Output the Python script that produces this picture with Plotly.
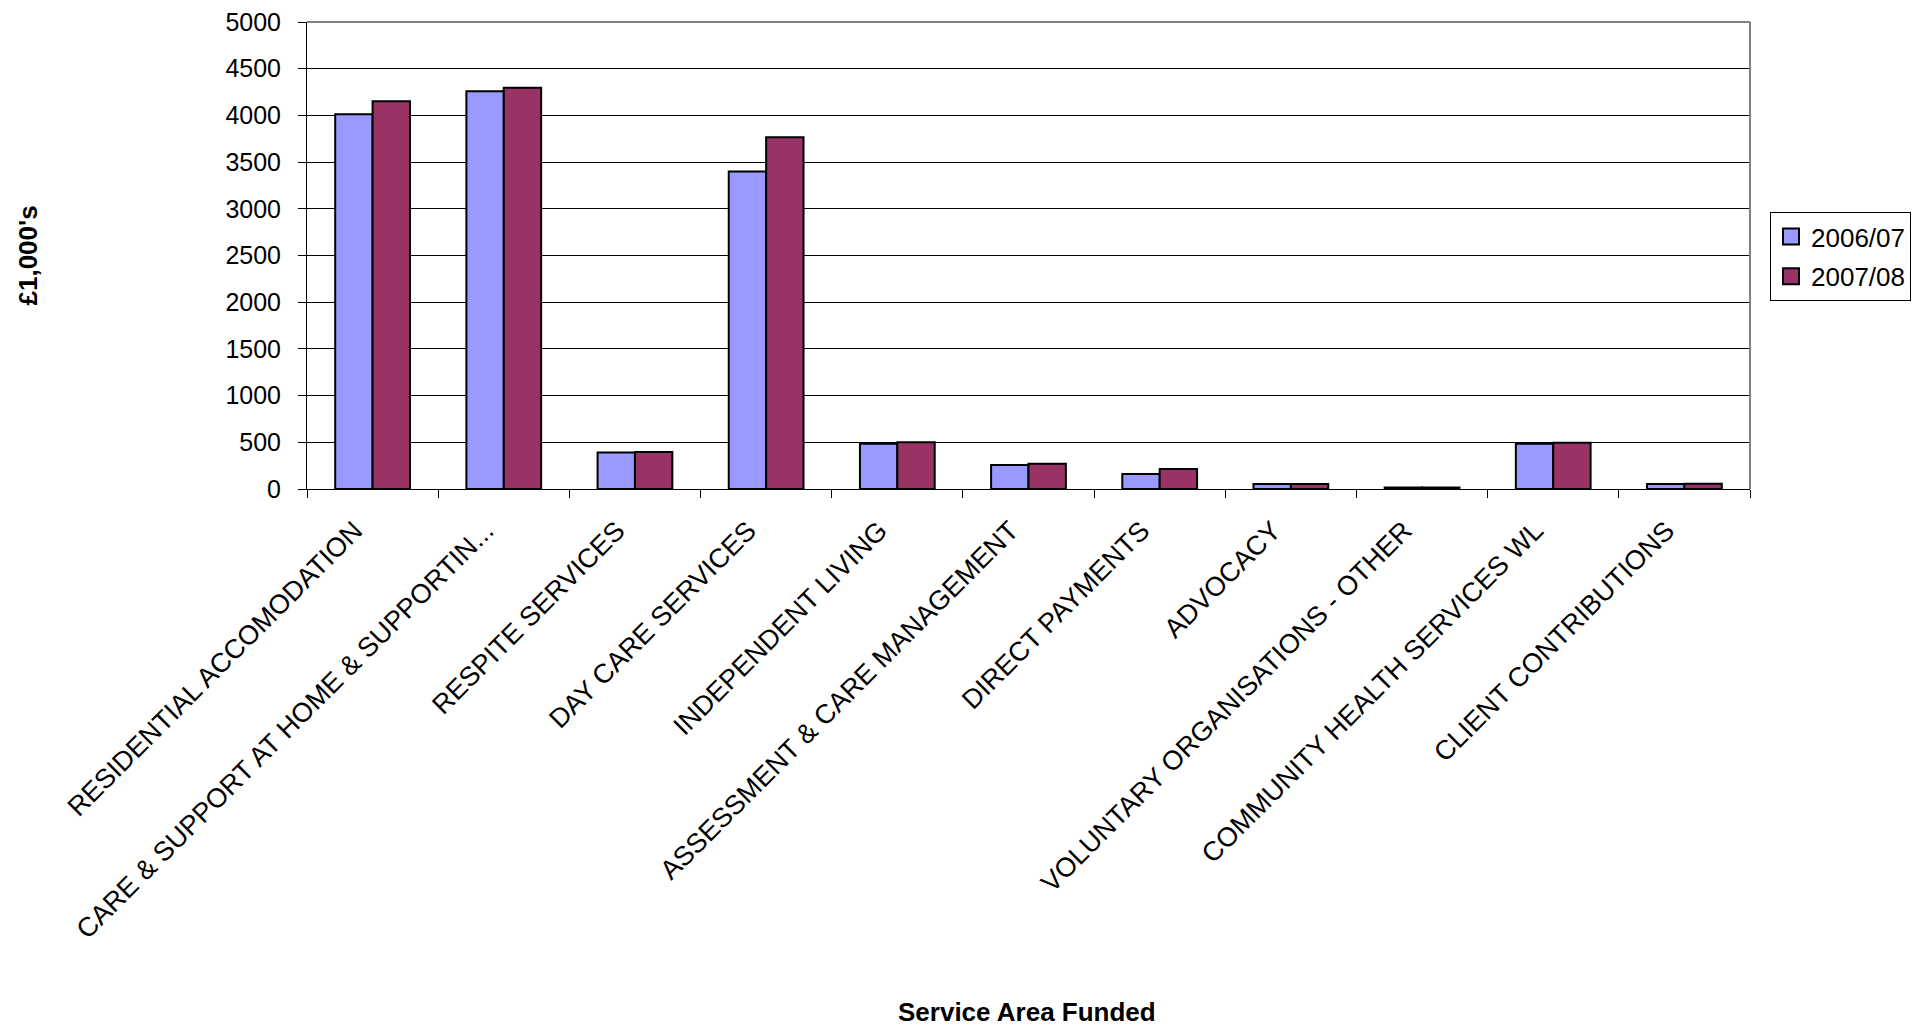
import plotly.graph_objects as go

categories = [
    "RESIDENTIAL ACCOMODATION",
    "CARE & SUPPORT AT HOME & SUPPORTIN...",
    "RESPITE SERVICES",
    "DAY CARE SERVICES",
    "INDEPENDENT LIVING",
    "ASSESSMENT & CARE MANAGEMENT",
    "DIRECT PAYMENTS",
    "ADVOCACY",
    "VOLUNTARY ORGANISATIONS - OTHER",
    "COMMUNITY HEALTH SERVICES WL",
    "CLIENT CONTRIBUTIONS",
]
values_2006 = [4012, 4258, 392, 3399, 485, 257, 160, 53, 15, 485, 53]
values_2007 = [4151, 4297, 396, 3766, 500, 271, 214, 53, 15, 496, 56]
series_names = ["2006/07", "2007/08"]
series_colors = ["#9999FF", "#993366"]
y_ticks = [0, 500, 1000, 1500, 2000, 2500, 3000, 3500, 4000, 4500, 5000]

FONT = "Liberation Sans, Arial, sans-serif"

fig = go.Figure()
for name, vals, col in zip(series_names, [values_2006, values_2007], series_colors):
    fig.add_trace(go.Bar(
        x=categories, y=vals, name=name, showlegend=False,
        marker=dict(color=col, line=dict(color="#000000", width=2)),
    ))
# legend entries with larger square symbols
for name, col in zip(series_names, series_colors):
    fig.add_trace(go.Scatter(
        x=[None], y=[None], mode="markers", name=name, legendgroup=name,
        marker=dict(symbol="square", size=16, color=col,
                    line=dict(color="#000000", width=2)),
    ))

L, R, T, B = 307, 1750, 22, 489
W, H = 1923, 1027

fig.update_layout(
    width=W, height=H,
    margin=dict(l=L, r=W - R, t=T, b=H - B, pad=0, autoexpand=False),
    paper_bgcolor="white", plot_bgcolor="white",
    barmode="group", bargap=0.43, bargroupgap=0,
    font=dict(family=FONT, size=26, color="black"),
    showlegend=True,
    legend=dict(
        x=(1770 - L) / (R - L), y=(B - 212) / (B - T),
        xanchor="left", yanchor="top",
        bordercolor="#000000", borderwidth=1,
        bgcolor="white",
        font=dict(family=FONT, size=26, color="black"),
        tracegroupgap=3, itemwidth=30, itemsizing="trace",
        traceorder="grouped",
    ),
    xaxis=dict(
        type="category", automargin=False,
        tickangle=-45,
        ticks="outside", ticklen=8, tickcolor="black", tickwidth=1,
        tickson="boundaries",
        ticklabelstandoff=14, ticklabelshift=-18,
        showline=True, linecolor="black", linewidth=1,
        showgrid=False,
        tickfont=dict(family=FONT, size=27, color="black"),
    ),
    yaxis=dict(
        range=[0, 5000], automargin=False,
        tickmode="array", tickvals=y_ticks, ticktext=[str(v) for v in y_ticks],
        ticks="outside", ticklen=8, tickcolor="black", tickwidth=1,
        ticklabelstandoff=12,
        showline=True, linecolor="black", linewidth=1,
        showgrid=True, gridcolor="#000000", gridwidth=1,
        zeroline=False,
        tickfont=dict(family=FONT, size=25, color="black"),
    ),
    shapes=[
        dict(type="line", xref="paper", yref="paper", x0=0, x1=1, y0=1, y1=1,
             line=dict(color="#808080", width=2), layer="above"),
        dict(type="line", xref="paper", yref="paper", x0=1, x1=1, y0=0, y1=1,
             line=dict(color="#808080", width=2), layer="above"),
    ],
    annotations=[
        dict(text="<b>Service Area Funded</b>", xref="paper", yref="paper",
             x=(1027 - L) / (R - L), y=(B - 1012) / (B - T),
             xanchor="center", yanchor="middle",
             showarrow=False, font=dict(family=FONT, size=26, color="black")),
        dict(text="<b>£1,000's</b>", xref="paper", yref="paper",
             x=(27 - L) / (R - L), y=0.5, xanchor="center", yanchor="middle",
             textangle=-90, showarrow=False,
             font=dict(family=FONT, size=26, color="black")),
    ],
)

fig.write_html("out.html")
